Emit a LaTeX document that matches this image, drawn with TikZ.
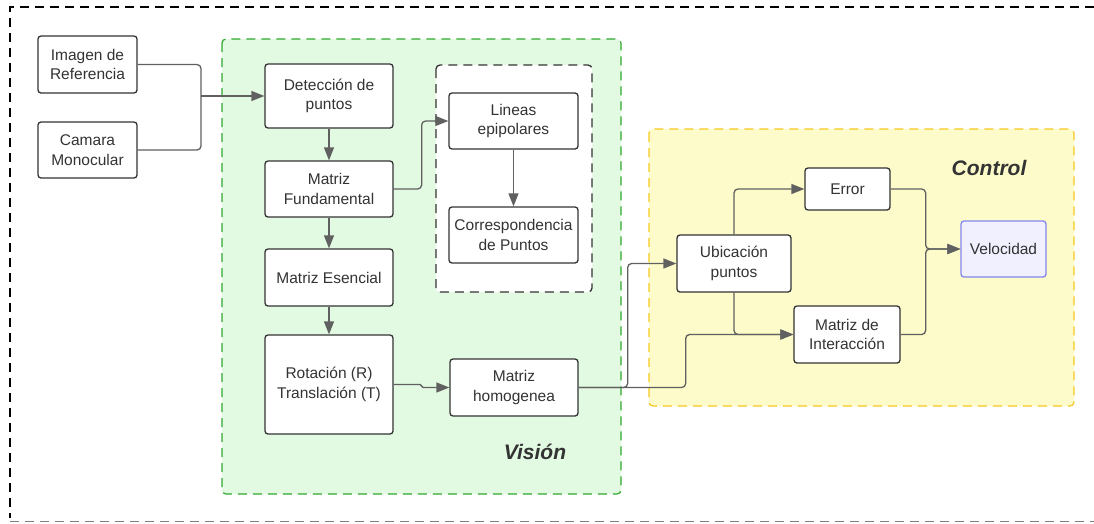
\documentclass[tikz,border=0pt]{standalone}
\usepackage{fontspec}
\setmainfont{Liberation Sans}
\usetikzlibrary{arrows.meta}

\definecolor{boxline}{HTML}{333333}
\definecolor{wire}{HTML}{606060}
\definecolor{visfill}{HTML}{E2F9E2}
\definecolor{visline}{HTML}{2FA82F}
\definecolor{ctlfill}{HTML}{FCFBC9}
\definecolor{ctlline}{HTML}{F7C81E}
\definecolor{velfill}{HTML}{F0F0FF}
\definecolor{velline}{HTML}{8585EE}
\definecolor{txt}{HTML}{333333}

\tikzset{
  block/.style={draw=boxline, line width=1.3pt, fill=white, rounded corners=3pt,
    inner sep=0pt, align=center, text=txt,
    font=\fontsize{15.5}{19.5}\selectfont},
  wire/.style={draw=wire, line width=1.3pt, rounded corners=4pt},
  grouplabel/.style={font=\fontsize{21}{24}\selectfont\bfseries\itshape, text=txt},
}

\begin{document}
\begin{tikzpicture}[x=1pt, y=-1pt, >={Triangle[length=13pt,width=10pt]}]
	\useasboundingbox (0,0) rectangle (1094,523);

	% outer frame
	\draw[line width=1.8pt, dash pattern=on 9pt off 6pt] (1094,7) -- (10,7) -- (10,518);
	\draw[line width=1.3pt, gray, dash pattern=on 9pt off 6pt] (10,521.5) -- (1094,521.5);

	% groups
	\draw[visline, fill=visfill, line width=1.2pt, dash pattern=on 9pt off 6pt, rounded corners=4pt]
		(222,39) rectangle (621,494);
	\draw[ctlline, fill=ctlfill, line width=1.2pt, dash pattern=on 9pt off 6pt, rounded corners=4pt]
		(649,129) rectangle (1074,406);
	\draw[boxline, fill=white, line width=1.3pt, dash pattern=on 9pt off 6pt, rounded corners=4pt]
		(436,65) rectangle (592,292);

	\node[grouplabel] (vision) at (535,452) {Visión};
	\node[grouplabel] (control) at (989,168) {Control};

	% blocks
	\node[block, minimum width=99pt, minimum height=57pt] (img) at (87.5,64.5) {Imagen de\\Referencia};
	\node[block, minimum width=99pt, minimum height=56pt] (cam) at (87.5,150) {Camara\\Monocular};
	\node[block, minimum width=128pt, minimum height=64pt] (det) at (329,96) {Detección de\\puntos};
	\node[block, minimum width=128pt, minimum height=56pt] (fund) at (329,189) {Matriz\\Fundamental};
	\node[block, minimum width=128pt, minimum height=57pt] (esen) at (329,277.5) {Matriz Esencial};
	\node[block, minimum width=128pt, minimum height=99pt] (rot) at (329,384.5) {Rotación (R)\\Translación (T)};
	\node[block, minimum width=129pt, minimum height=56pt] (lin) at (513.5,121) {Lineas\\epipolares};
	\node[block, minimum width=129pt, minimum height=56pt] (corr) at (513.5,235) {Correspondencia\\de Puntos};
	\node[block, minimum width=128pt, minimum height=57pt] (hom) at (514,387.5) {Matriz\\homogenea};
	\node[block, minimum width=114pt, minimum height=57pt] (ubi) at (734,263.5) {Ubicación\\puntos};
	\node[block, minimum width=85pt, minimum height=42pt] (err) at (847.5,189) {Error};
	\node[block, minimum width=106pt, minimum height=57pt] (inter) at (847,334.5) {Matriz de\\Interacción};
	\node[block, draw=velline, fill=velfill, minimum width=85pt, minimum height=56pt] (vel) at (1003.5,249) {Velocidad};

	% connectors
	\coordinate (join) at (201,96);
	\draw[wire] (img.east) -| (join);
	\draw[wire] (cam.east) -| (join);
	\draw[wire, ->] (join) -- (det.west);
	\draw[wire, ->] (det) -- (fund);
	\draw[wire, ->] (fund) -- (esen);
	\draw[wire, ->] (esen) -- (rot);
	\draw[wire, ->] (fund.east) -- ++(28,0) |- (lin.west);
	\draw[wire, ->] (lin) -- (corr);
	\draw[wire, ->, rounded corners=1.5pt] (rot.east) -- ++(28,0) |- (hom.west);
	\draw[wire, ->] (hom.east) -- ++(49,0) |- (ubi.west);
	\draw[wire, ->] (hom.east) -- ++(107,0) |- (inter.west);
	\draw[wire, ->] (ubi.north) |- (err.west);
	\draw[wire, ->] (ubi.south) |- (inter.west);
	\draw[wire, ->] (err.east) -- ++(35,0) |- (vel.west);
	\draw[wire, ->] (inter.east) -- ++(25,0) |- (vel.west);
\end{tikzpicture}
\end{document}
